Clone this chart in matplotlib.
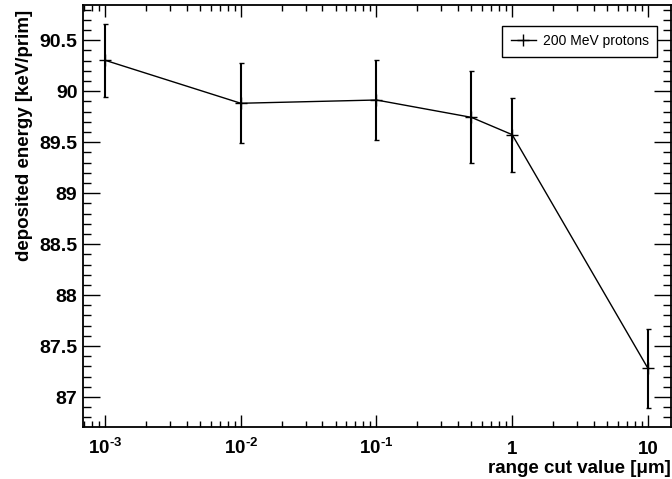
import numpy as np
import matplotlib
matplotlib.use('Agg')
from matplotlib import pyplot as plt
from matplotlib.lines import Line2D
from matplotlib.ticker import FixedLocator, NullFormatter

# range cut values [um] and deposited energy [keV/prim]
cut_values = [1e-3, 1e-2, 1e-1, 0.5, 1.0, 10.0]
energy = [90.304, 89.882, 89.914, 89.744, 89.574, 87.282]
energy_err = [0.357, 0.394, 0.390, 0.450, 0.363, 0.387]

xtick_pos = [1e-3, 1e-2, 1e-1, 1, 10]
xtick_lbl = [u'$10^{\u20103}$', u'$10^{\u20102}$', u'$10^{\u20101}$', '1', '10']
ytick_pos = [87, 87.5, 88, 88.5, 89, 89.5, 90, 90.5]
ytick_lbl = ['87', '87.5', '88', '88.5', '89', '89.5', '90', '90.5']

plt.rcParams['font.family'] = 'Liberation Sans'
plt.rcParams['mathtext.fontset'] = 'custom'
plt.rcParams['mathtext.rm'] = 'Liberation Sans:bold'
plt.rcParams['mathtext.it'] = 'Liberation Sans:bold'
plt.rcParams['mathtext.bf'] = 'Liberation Sans:bold'

W, H = 672, 479
fig = plt.figure(figsize=(W/100, H/100), dpi=100)
ax = fig.add_axes([83/W, 1-426.7/H, (671-83)/W, (426.7-4.7)/H])

ax.errorbar(cut_values, energy, yerr=energy_err, color='black', lw=1.0,
            elinewidth=1.5, capsize=1.8, capthick=1.5, marker='+',
            markersize=8, markeredgewidth=1.0)

ax.set_xscale('log')
ax.set_xlim(6.88e-4, 14.8)
ax.set_ylim(86.709, 90.849)

ax.xaxis.set_major_locator(FixedLocator(xtick_pos))
ax.set_xticklabels(xtick_lbl, va='baseline', fontsize=13.5, fontweight='bold')
minors = [m * 10.0**d for d in range(-4, 2) for m in range(2, 10)]
ax.xaxis.set_minor_locator(FixedLocator(minors))
ax.xaxis.set_minor_formatter(NullFormatter())
ax.set_yticks(ytick_pos)
ax.set_yticklabels(ytick_lbl, fontsize=14, fontweight='bold')
ax.yaxis.set_minor_locator(FixedLocator(np.arange(86.8, 90.85, 0.1)))

ax.tick_params(which='both', direction='in', top=True, right=True, width=1.0)
ax.tick_params(axis='y', which='major', length=12.2, pad=4)
ax.tick_params(axis='y', which='minor', length=5.8)
ax.tick_params(axis='x', which='major', length=8.6, pad=19.5)
ax.tick_params(axis='x', which='minor', length=4.0)

for s in ax.spines.values():
    s.set_linewidth(1.3)

ax.set_xlabel(u'range cut value [\u03bcm]', fontsize=13.5, fontweight='bold', loc='right')
ax.xaxis.set_label_coords(1.0, -0.08)
ax.set_ylabel('deposited energy [keV/prim]', fontsize=13.5, fontweight='bold', loc='top')
ax.yaxis.set_label_coords(-0.085, 0.988)

handle = Line2D([], [], color='black', lw=1.0, marker='+', markersize=8, markeredgewidth=1.0)
leg = ax.legend(handles=[handle], labels=['200 MeV protons'], loc='upper right',
                bbox_to_anchor=(657/W, 1-26/H), bbox_transform=fig.transFigure,
                fancybox=False, edgecolor='black', framealpha=1, borderaxespad=0,
                fontsize=10, handlelength=1.8, handletextpad=0.5, borderpad=0.6)
leg.get_frame().set_linewidth(1.0)

fig.savefig('out.png', dpi=100)
